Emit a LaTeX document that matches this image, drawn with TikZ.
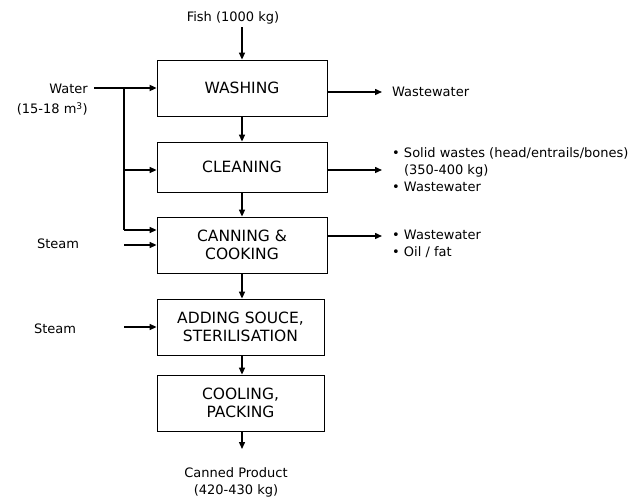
\documentclass[tikz,border=0pt]{standalone}
\usepackage{fontspec}
\setmainfont{DejaVu Sans}
\usetikzlibrary{arrows.meta,positioning}

\begin{document}
\begin{tikzpicture}[x=1pt, y=-1pt,
    font=\fontsize{13}{17}\selectfont,
    flow/.style={-{Triangle[length=7pt,width=6pt]}, line width=1.4pt},
    feed/.style={line width=1.8pt},
    stage/.style={draw, line width=0.8pt, minimum width=170pt,
                  minimum height=56pt, align=center, inner sep=2pt,
                  font=\fontsize{15.5}{18}\selectfont},
    side/.style={align=center, inner sep=3pt},
    outlet/.style={anchor=west, align=left, inner sep=3pt}]
  \useasboundingbox (0,0) rectangle (640,502);

  % process stages
  \node[stage] (wash) at (242,88) {WASHING};
  \node[stage, minimum height=50pt] (clean) at (242,167) {CLEANING};
  \node[stage] (cook) at (242,245) {CANNING \&\\COOKING};
  \node[stage, minimum width=167pt] (sauce) at (240.5,327) {ADDING SOUCE,\\STERILISATION};
  \node[stage, minimum width=167pt] (pack) at (240.5,403) {COOLING,\\PACKING};

  % inputs
  \node[side] (fish) at (233,18) {Fish (1000 kg)};
  \node[side, align=right, anchor=east, font=\fontsize{13}{20}\selectfont] (water) at (91,100) {Water\\(15-18 m\textsuperscript{3})};
  \node[side] (steamA) at (58,244) {Steam};
  \node[side] (steamB) at (55,329) {Steam};
  \node[side] (prod) at (236,482) {Canned Product\\(420-430 kg)};

  % outputs
  \node[outlet] (outA) at (389,92) {Wastewater};
  \node[outlet] (outB) at (389,170) {\textbullet\ Solid wastes (head/entrails/bones)\\
    \phantom{\textbullet\ }(350-400 kg)\\\textbullet\ Wastewater};
  \node[outlet] (outC) at (389,244) {\textbullet\ Wastewater\\\textbullet\ Oil / fat};

  % main line
  \draw[flow] (wash.north |- fish.south) -- (wash.north);
  \draw[flow] (wash.south) -- (clean.north);
  \draw[flow] (clean.south) -- (cook.north);
  \draw[flow] (cook.south) -- (sauce.north -| cook.south);
  \draw[flow] (sauce.south -| cook.south) -- (pack.north -| cook.south);
  \draw[flow, shorten >=15pt] (pack.south -| cook.south) -- (prod.north -| cook.south);

  % water and steam feeds
  \coordinate (bus) at (124,88);
  \draw[flow, feed, shorten <=3pt] (water.east |- wash.west) -- (wash.west);
  \draw[feed] (bus) -- ([yshift=15pt]bus |- cook.west);
  \draw[flow] ([yshift=-3pt]bus |- clean.west) -- ([yshift=-3pt]clean.west);
  \draw[flow] ([yshift=15pt]bus |- cook.west) -- ([yshift=15pt]cook.west);
  \draw[flow] (bus |- cook.west) -- (cook.west);
  \draw[flow] (bus |- sauce.west) -- (sauce.west);

  % discharges
  \draw[flow, shorten >=7pt] (wash.east |- outA.west) -- (outA.west);
  \draw[flow, shorten >=7pt] (clean.east |- outB.west) -- (outB.west);
  \draw[flow, shorten >=7pt] ([yshift=8pt]cook.east |- outC.west) -- ([yshift=8pt]outC.west);
\end{tikzpicture}
\end{document}
